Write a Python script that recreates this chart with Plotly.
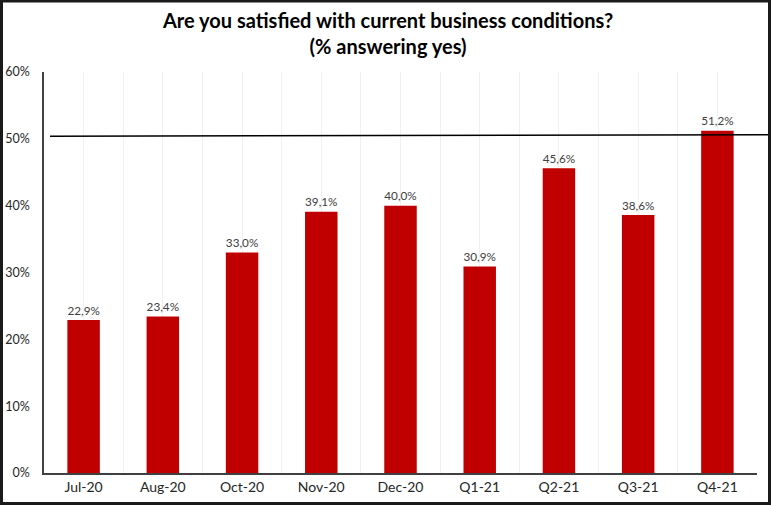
import plotly.graph_objects as go

# data
categories = ["Jul-20", "Aug-20", "Oct-20", "Nov-20", "Dec-20", "Q1-21", "Q2-21", "Q3-21", "Q4-21"]
values = [22.9, 23.4, 33.0, 39.1, 40.0, 30.9, 45.6, 38.6, 51.2]
reference_level = [50.4, 50.6]  # the hand-drawn line, left and right end
y_ticks = [0, 10, 20, 30, 40, 50, 60]
y_tick_labels = [f"{v}%" for v in y_ticks]
title_lines = ["Are you satisfied with current business conditions?", "(% answering yes)"]

W, H = 772, 506
margin = dict(l=44, r=15, t=72, b=33)
plot_w = W - margin["l"] - margin["r"]
plot_h = H - margin["t"] - margin["b"]


def px_x(p):
    """Pixel x -> paper x."""
    return (p - margin["l"]) / plot_w


def px_y(p):
    """Pixel y (from top) -> paper y."""
    return (H - margin["b"] - p) / plot_h


x = list(range(len(categories)))

fig = go.Figure(go.Bar(
    x=x,
    y=values,
    width=0.41,
    marker=dict(color="#C00000", line=dict(width=0)),
    texttemplate="%{y:.1f}%",
    textposition="outside",
    textfont=dict(size=14.5, color="#404040"),
    cliponaxis=False,
))

# two-line title as one annotation
fig.add_annotation(
    text="<br>".join(title_lines), xref="paper", yref="paper",
    x=px_x(W / 2 + 1), y=px_y(33),
    xanchor="center", yanchor="middle",
    showarrow=False,
    font=dict(family="Lato, sans-serif", size=20, color="#000000", weight="bold"),
)

fig.update_layout(
    width=W,
    height=H,
    margin=margin,
    paper_bgcolor="white",
    plot_bgcolor="white",
    separators=",.",
    font=dict(family="Lato, sans-serif", color="#404040", size=13),
    showlegend=False,
    xaxis=dict(
        range=[-0.5, len(categories) - 0.5],
        tickvals=x,
        ticktext=categories,
        showgrid=True,
        gridcolor="#F0F0F0",
        gridwidth=1,
        minor=dict(
            tickvals=[i - 0.5 for i in range(len(categories) + 1)],
            showgrid=True,
            gridcolor="#F0F0F0",
            gridwidth=1,
        ),
        showline=True,
        linecolor="#404040",
        linewidth=1.5,
        ticks="",
        tickfont=dict(size=14, color="#262626"),
        zeroline=False,
        automargin=False,
        fixedrange=True,
    ),
    yaxis=dict(
        range=[0, 60],
        tickvals=y_ticks,
        ticktext=y_tick_labels,
        showgrid=False,
        showline=True,
        linecolor="#404040",
        linewidth=1.5,
        ticks="",
        ticklabelstandoff=10,
        tickfont=dict(size=12.5, color="#262626"),
        zeroline=False,
        automargin=False,
        fixedrange=True,
    ),
    shapes=[
        dict(
            type="line",
            xref="paper", yref="y",
            x0=px_x(50), x1=px_x(770),
            y0=reference_level[0], y1=reference_level[1],
            line=dict(color="#000000", width=1.5),
        ),
        dict(
            type="rect",
            xref="paper", yref="paper",
            x0=px_x(1.5), x1=px_x(769.5),
            y0=px_y(503.5), y1=px_y(1),
            line=dict(color="#1A1A1A", width=3),
            layer="above",
        ),
    ],
)

fig.write_html(
    "out.html",
    config={"displayModeBar": False},
    post_script="document.body.style.margin='0';document.body.style.overflow='hidden';",
)
